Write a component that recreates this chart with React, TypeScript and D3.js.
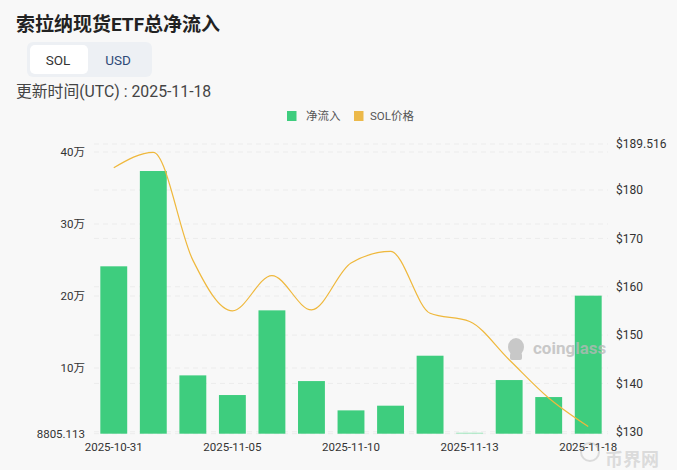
import React from "react";
import * as d3 from "d3";

const dates = ["2025-10-31","2025-11-03","2025-11-04","2025-11-05","2025-11-06","2025-11-07","2025-11-10","2025-11-11","2025-11-12","2025-11-13","2025-11-14","2025-11-17","2025-11-18"];
const netInflow = [241250, 373600, 89800, 62500, 180100, 81900, 41200, 47700, 117100, 8805.113, 83300, 59700, 200500];
const solPrice = [184.6, 187.8, 165.5, 155.0, 162.3, 155.2, 164.9, 167.3, 154.5, 152.8, 144.9, 137.0, 131.1];
const leftTicks = [100000, 200000, 300000, 400000];
const leftMin = 8805.113;
const rightTicks = [130, 140, 150, 160, 170, 180];
const rightMax = 189.516;
const xLabelIdx = [0, 3, 6, 9, 12];

const W = 677, H = 470;
const top = 144, bottom = 433.7, left = 94, right = 608;
const FONT = "Roboto, 'Noto Sans CJK SC', 'Noto Sans', sans-serif";

export default function App() {
  const x = d3.scaleBand<string>().domain(dates).range([left, right]).paddingInner(0.32).paddingOuter(0.16);
  const yL = d3.scaleLinear().domain([leftMin, 411111]).range([bottom, top]);
  const yR = d3.scaleLinear().domain([129.6, rightMax]).range([bottom, top]);
  const cx = (d: string) => (x(d) as number) + x.bandwidth() / 2;
  const line = d3.line<number>().x((_, i) => cx(dates[i])).y((v) => yR(v)).curve(d3.curveMonotoneX);
  const fmtL = (v: number) => `${v / 10000}万`;

  return (
    <div style={{ position: "absolute", left: 0, top: 0 }}>
      <svg width={W} height={H} style={{ display: "block", background: "#f8f8f8" }} fontFamily={FONT}>
        <rect width={W} height={H} fill="#f8f8f8" />
        <text x={16} y={31} fontSize={19} fontWeight={700} fill="#222">索拉纳现货ETF总净流入</text>
        <rect x={27} y={42} width={125} height={35} rx={6} fill="#edf0f4" />
        <rect x={30} y={45} width={58} height={29} rx={5} fill="#ffffff" />
        <text x={58} y={64.5} fontSize={13.5} textAnchor="middle" fill="#333">SOL</text>
        <text x={118} y={64.5} fontSize={13.5} textAnchor="middle" fill="#2d4a78">USD</text>
        <text x={16} y={97} fontSize={15.8} fill="#444">更新时间(UTC) : 2025-11-18</text>

        {/* legend */}
        <rect x={287} y={111} width={9.5} height={10} fill="#3ecd7e" />
        <text x={306} y={120} fontSize={11.5} fill="#555">净流入</text>
        <rect x={354} y={111} width={9.5} height={10} fill="#ecb94a" />
        <text x={370} y={120} fontSize={11.5} fill="#555">SOL价格</text>

        {/* grid */}
        {[leftMin, ...leftTicks].map((t) => (
          <line key={"gl" + t} x1={left} x2={right} y1={yL(t)} y2={yL(t)} stroke="#ececec" strokeDasharray="5,4" />
        ))}
        {[...rightTicks, rightMax].map((t) => (
          <line key={"gr" + t} x1={left} x2={right} y1={yR(t)} y2={yR(t)} stroke="#ececec" strokeDasharray="5,4" />
        ))}

        {/* bars */}
        {netInflow.map((v, i) => (
          <rect key={"b" + i} x={x(dates[i])} y={Math.min(yL(v), bottom - 1)} width={x.bandwidth()} height={Math.max(bottom - yL(v), 1)}
            fill={i === 9 ? "#9fe6bd" : "#3ecd7e"} />
        ))}

        {/* line */}
        <path d={line(solPrice) || ""} fill="none" stroke="#efb83c" strokeWidth={1.2} />

        {/* watermark */}
        <g fill="#b8b8b8" opacity={0.75}>
          <ellipse cx={516} cy={347} rx={8} ry={9} />
          <rect x={510} y={353} width={12} height={7} rx={2} />
          <text x={533} y={354} fontSize={17} fontWeight={700}>coinglass</text>
        </g>

        {/* left axis labels */}
        {leftTicks.map((t) => (
          <text key={"ll" + t} x={85} y={yL(t)} dy="0.35em" fontSize={11.5} textAnchor="end" fill="#333">{fmtL(t)}</text>
        ))}
        <text x={85} y={yL(leftMin)} dy="0.35em" fontSize={11.5} textAnchor="end" fill="#333">{leftMin.toFixed(3)}</text>

        {/* right axis labels */}
        {rightTicks.map((t) => (
          <text key={"rl" + t} x={616} y={yR(t)} dy="0.35em" fontSize={12} fill="#333">{`$${t}`}</text>
        ))}
        <text x={616} y={yR(rightMax)} dy="0.35em" fontSize={12} fill="#333">{`$${rightMax}`}</text>

        {/* x labels */}
        {xLabelIdx.map((i) => (
          <text key={"xl" + i} x={cx(dates[i])} y={447} dy="0.35em" fontSize={11.5} textAnchor="middle" fill="#333">{dates[i]}</text>
        ))}

        {/* bottom-right watermark */}
        <g opacity={0.3} fill="none" stroke="#999">
          <circle cx={590} cy={452} r={9} strokeWidth={2} />
        </g>
        <text x={605} y={466} fontSize={18} fontWeight={700} fill="#999" opacity={0.3}>币界网</text>
      </svg>
    </div>
  );
}
